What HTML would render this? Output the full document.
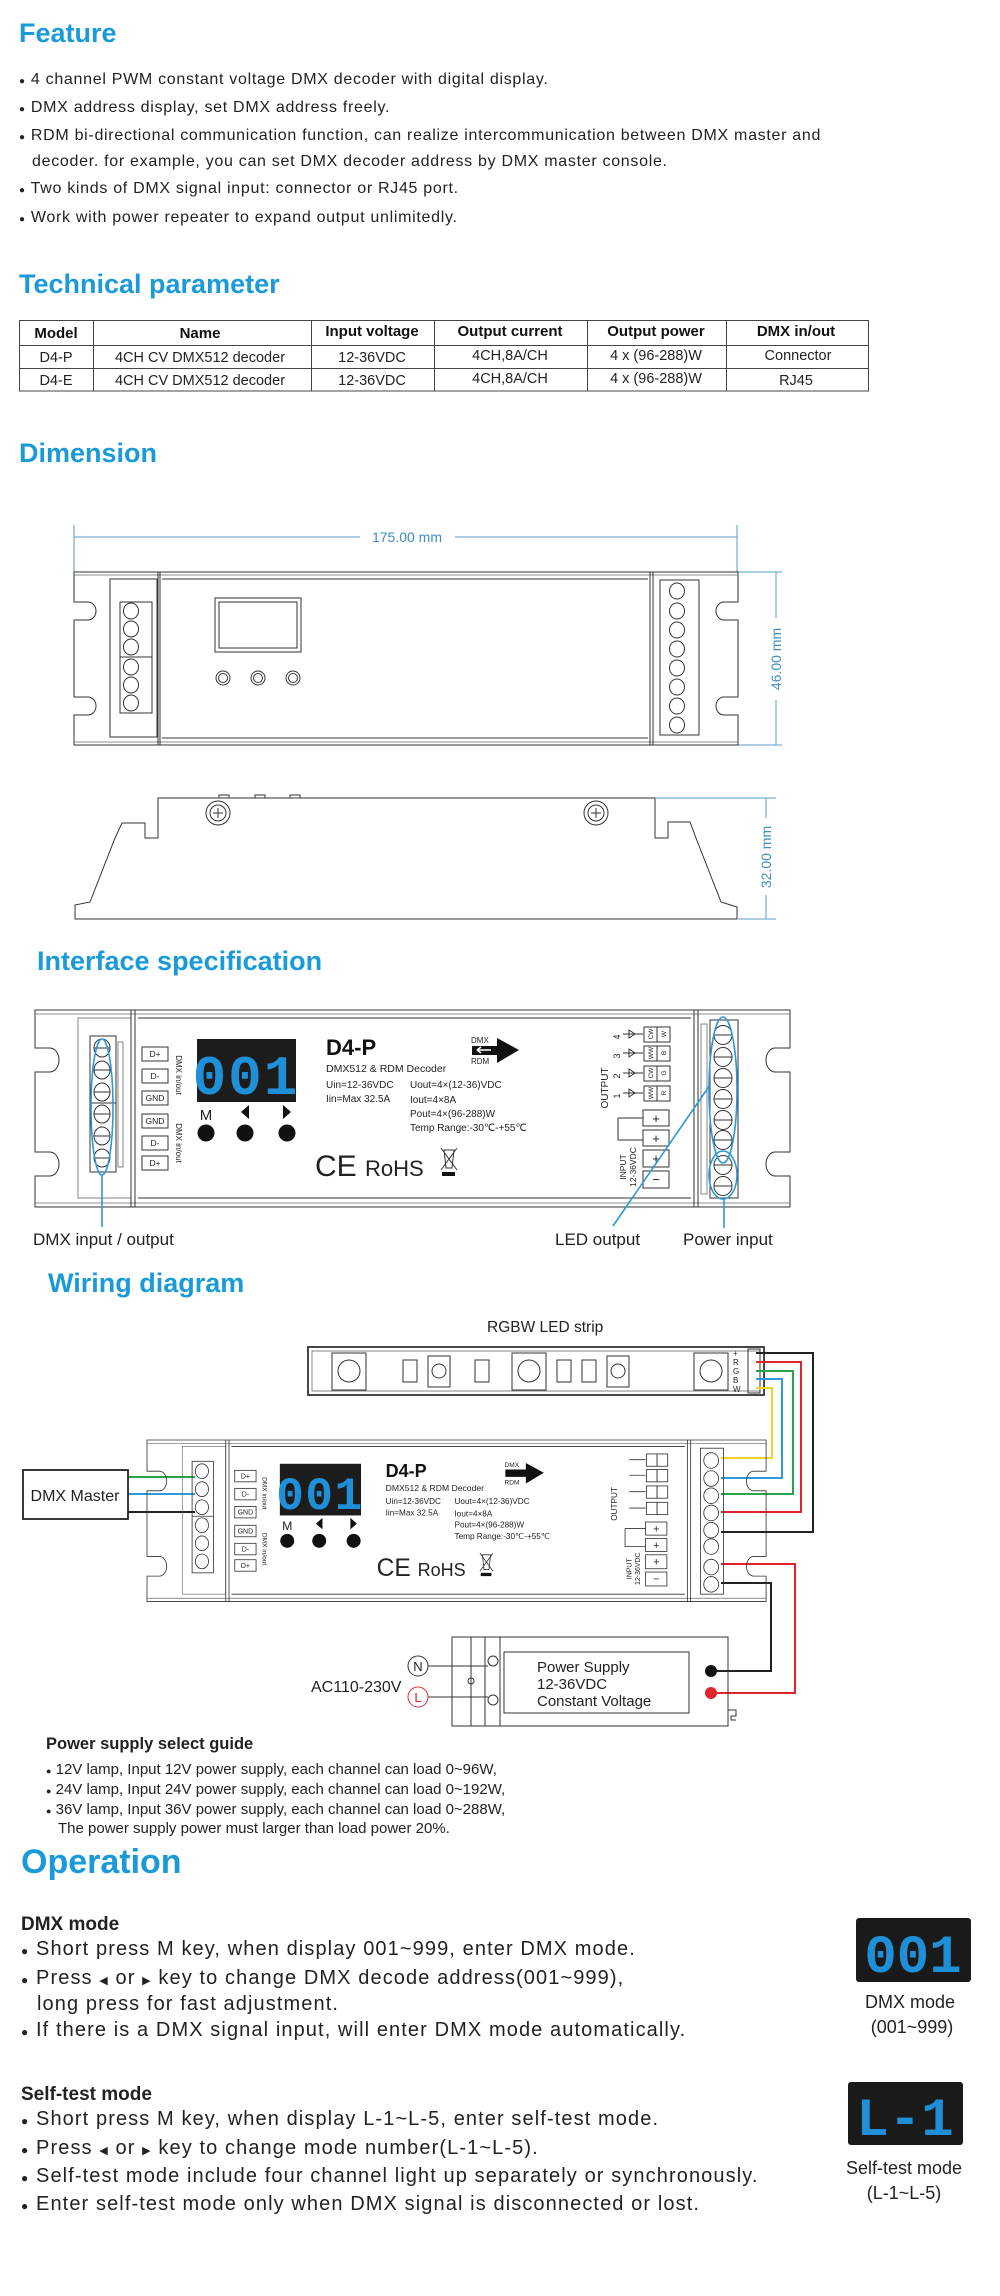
<!DOCTYPE html>
<html><head><meta charset="utf-8"><style>
html,body{margin:0;padding:0;background:#fff;}
svg{display:block;font-family:"Liberation Sans",sans-serif;}
.t{fill:#1a9ad8;font-weight:bold;font-size:27px;}
.b{fill:#222;font-size:16px;letter-spacing:0.7px;}
.tb{fill:#222;font-size:14.5px;}
.th{fill:#111;font-size:15px;font-weight:bold;}
.ln{stroke:#333;fill:none;stroke-width:1;}
.lt{stroke:#666;fill:none;stroke-width:0.8;}
.dm{stroke:#5a9cc8;fill:none;stroke-width:1;}
.hl{stroke:#2a9ad6;fill:none;stroke-width:1.6;}
.sm{font-size:10px;fill:#222;}
.op{fill:#222;font-size:20px;letter-spacing:1.1px;}
</style></head><body>
<svg width="1000" height="2296" viewBox="0 0 1000 2296" xmlns="http://www.w3.org/2000/svg">
<!-- FEATURE -->
<text class="t" x="19" y="42">Feature</text>
<g class="b">
<text x="19" y="84"><tspan font-size="10">●</tspan> 4 channel PWM constant voltage DMX decoder with digital display.</text>
<text x="19" y="112"><tspan font-size="10">●</tspan> DMX address display, set DMX address freely.</text>
<text x="19" y="140"><tspan font-size="10">●</tspan> RDM bi-directional communication function, can realize intercommunication between DMX master and</text>
<text x="32" y="166">decoder. for example, you can set DMX decoder address by DMX master console.</text>
<text x="19" y="193"><tspan font-size="10">●</tspan> Two kinds of DMX signal input: connector or RJ45 port.</text>
<text x="19" y="222"><tspan font-size="10">●</tspan> Work with power repeater to expand output unlimitedly.</text>
</g>
<!-- TECH -->
<text class="t" x="19" y="293">Technical parameter</text>
<g stroke="#444" stroke-width="1" fill="none">
<rect x="19.5" y="320.5" width="849" height="70.5"/>
<line x1="19" y1="345.5" x2="869" y2="345.5"/>
<line x1="19" y1="368.5" x2="869" y2="368.5"/>
<line x1="93.5" y1="320" x2="93.5" y2="391"/>
<line x1="311.5" y1="320" x2="311.5" y2="391"/>
<line x1="434.5" y1="320" x2="434.5" y2="391"/>
<line x1="587.5" y1="320" x2="587.5" y2="391"/>
<line x1="726.5" y1="320" x2="726.5" y2="391"/>
</g>
<g class="th" text-anchor="middle">
<text x="56" y="338">Model</text><text x="200" y="338">Name</text><text x="372" y="336">Input voltage</text><text x="510" y="336">Output current</text><text x="656" y="336">Output power</text><text x="796" y="336">DMX in/out</text>
</g>
<g class="tb" text-anchor="middle">
<text x="56" y="362">D4-P</text><text x="200" y="362">4CH CV DMX512 decoder</text><text x="372" y="362">12-36VDC</text><text x="510" y="360">4CH,8A/CH</text><text x="656" y="360">4 x (96-288)W</text><text x="798" y="360">Connector</text>
<text x="56" y="385">D4-E</text><text x="200" y="385">4CH CV DMX512 decoder</text><text x="372" y="385">12-36VDC</text><text x="510" y="383">4CH,8A/CH</text><text x="656" y="383">4 x (96-288)W</text><text x="796" y="385">RJ45</text>
</g>
<!-- DIMENSION -->
<text class="t" x="19" y="462">Dimension</text>
<g class="dm">
<line x1="74" y1="525" x2="74" y2="572"/><line x1="737" y1="525" x2="737" y2="572"/>
<line x1="74" y1="537" x2="360" y2="537"/><line x1="455" y1="537" x2="737" y2="537"/>
<line x1="738" y1="572" x2="782" y2="572"/><line x1="738" y1="745" x2="782" y2="745"/>
<line x1="776" y1="572" x2="776" y2="618"/><line x1="776" y1="700" x2="776" y2="745"/>
<line x1="656" y1="798" x2="776" y2="798"/><line x1="738" y1="919" x2="776" y2="919"/>
<line x1="766" y1="798" x2="766" y2="818"/><line x1="766" y1="895" x2="766" y2="919"/>
</g>
<text x="407" y="542" text-anchor="middle" font-size="14" fill="#3d8cc0">175.00 mm</text>
<text transform="translate(781,659) rotate(-90)" text-anchor="middle" font-size="14" fill="#3d8cc0">46.00 mm</text>
<text transform="translate(771,857) rotate(-90)" text-anchor="middle" font-size="14" fill="#3d8cc0">32.00 mm</text>
<!-- top view -->
<g class="ln">
<path d="M74,572 H738 V602 H724 a8,9 0 0 0 0,18 H738 V697 H724 a8,9 0 0 0 0,18 H738 V745 H74 V715 H88 a8,9 0 0 0 0,-18 H74 V620 H88 a8,9 0 0 0 0,-18 H74 Z"/>
<line x1="74" y1="575" x2="738" y2="575" class="lt"/><line x1="74" y1="742" x2="738" y2="742" class="lt"/>
<rect x="110" y="579" width="47" height="158"/>
<line x1="158" y1="572" x2="158" y2="745"/><line x1="160" y1="572" x2="160" y2="745"/>
<line x1="650" y1="572" x2="650" y2="745"/><line x1="653" y1="572" x2="653" y2="745"/>
<line x1="162" y1="579" x2="648" y2="579"/><line x1="162" y1="738" x2="648" y2="738"/>
<rect x="215" y="598" width="86" height="54"/><rect x="219" y="602" width="78" height="46"/>
<circle cx="223" cy="678" r="7"/><circle cx="223" cy="678" r="4.5"/>
<circle cx="258" cy="678" r="7"/><circle cx="258" cy="678" r="4.5"/>
<circle cx="293" cy="678" r="7"/><circle cx="293" cy="678" r="4.5"/>
<rect x="120" y="602" width="32" height="111"/><line x1="120" y1="657" x2="152" y2="657"/>
<rect x="660" y="580" width="39" height="155"/>
</g>
<g class="ln">
<ellipse cx="131" cy="611" rx="7.5" ry="8"/><ellipse cx="131" cy="629" rx="7.5" ry="8"/><ellipse cx="131" cy="647" rx="7.5" ry="8"/><ellipse cx="131" cy="667" rx="7.5" ry="8"/><ellipse cx="131" cy="685" rx="7.5" ry="8"/><ellipse cx="131" cy="703" rx="7.5" ry="8"/>
<ellipse cx="677" cy="591" rx="7.5" ry="8"/><ellipse cx="677" cy="611" rx="7.5" ry="8"/><ellipse cx="677" cy="630" rx="7.5" ry="8"/><ellipse cx="677" cy="649" rx="7.5" ry="8"/><ellipse cx="677" cy="668" rx="7.5" ry="8"/><ellipse cx="677" cy="687" rx="7.5" ry="8"/><ellipse cx="677" cy="706" rx="7.5" ry="8"/><ellipse cx="677" cy="725" rx="7.5" ry="8"/>
</g>
<!-- side view -->
<g class="ln">
<path d="M75,919 L75,905 L90,902 L115,838 L122,823 L145,823 L145,838 L158,838 L158,798 L655,798 L655,838 L668,838 L668,822 L690,822 L696,838 L721,902 L737,907 L737,919 Z"/>
<circle cx="218" cy="813" r="12"/><circle cx="218" cy="813" r="8"/>
<circle cx="596" cy="813" r="12"/><circle cx="596" cy="813" r="8"/>
<path d="M213,813 h10 M218,808 v10 M591,813 h10 M596,808 v10"/>
<rect x="219" y="795" width="10" height="3"/><rect x="255" y="795" width="10" height="3"/><rect x="290" y="795" width="10" height="3"/>
</g>
<!-- INTERFACE -->
<text class="t" x="37" y="970">Interface specification</text>
<g transform="translate(35,1010)">
<g class="ln">
<path d="M0,0 H755 V38 H740 a9,12 0 0 0 0,24 H755 V142 H740 a9,12 0 0 0 0,24 H755 V197 H0 V166 H15 a9,12 0 0 0 0,-24 H0 V62 H15 a9,12 0 0 0 0,-24 H0 Z"/>
<line x1="0" y1="4" x2="755" y2="4" class="lt"/><line x1="0" y1="193" x2="755" y2="193" class="lt"/>
<rect x="43" y="8" width="53" height="180" class="lt"/>
<line x1="96" y1="0" x2="96" y2="197"/><line x1="100" y1="0" x2="100" y2="197"/>
<line x1="659" y1="0" x2="659" y2="197"/><line x1="663" y1="0" x2="663" y2="197"/>
<line x1="103" y1="8" x2="656" y2="8"/><line x1="103" y1="188" x2="656" y2="188"/>
<rect x="55" y="26" width="26" height="136"/><line x1="55" y1="93" x2="81" y2="93"/>
<rect x="83" y="32" width="5" height="125" class="lt"/>
<rect x="675" y="10" width="28" height="178"/>
<rect x="666" y="14" width="6" height="170" class="lt"/>
</g>
<g class="ln">
<ellipse cx="67" cy="38" rx="8" ry="9"/><ellipse cx="67" cy="60" rx="8" ry="9"/><ellipse cx="67" cy="82" rx="8" ry="9"/><ellipse cx="67" cy="104" rx="8" ry="9"/><ellipse cx="67" cy="126" rx="8" ry="9"/><ellipse cx="67" cy="148" rx="8" ry="9"/>
<ellipse cx="688" cy="25" rx="9" ry="9.5"/><ellipse cx="688" cy="47" rx="9" ry="9.5"/><ellipse cx="688" cy="68" rx="9" ry="9.5"/><ellipse cx="688" cy="89" rx="9" ry="9.5"/><ellipse cx="688" cy="110" rx="9" ry="9.5"/><ellipse cx="688" cy="130" rx="9" ry="9.5"/><ellipse cx="688" cy="155" rx="9" ry="9.5"/><ellipse cx="688" cy="176" rx="9" ry="9.5"/>
<path d="M59,38h16M59,60h16M59,82h16M59,104h16M59,126h16M59,148h16M679,25h18M679,47h18M679,68h18M679,89h18M679,110h18M679,130h18M679,155h18M679,176h18"/>
<rect x="107" y="37" width="26" height="14"/><rect x="107" y="59" width="26" height="14"/><rect x="107" y="81" width="26" height="14"/>
<rect x="107" y="104" width="26" height="14"/><rect x="107" y="126" width="26" height="14"/><rect x="107" y="146" width="26" height="14"/>
</g>
<g font-size="8.5" fill="#222" text-anchor="middle">
<text x="120" y="47">D+</text><text x="120" y="69">D-</text><text x="120" y="91">GND</text><text x="120" y="114">GND</text><text x="120" y="136">D-</text><text x="120" y="156">D+</text>
</g>
<text transform="translate(141,65) rotate(90)" text-anchor="middle" font-size="8" fill="#222">DMX in/out</text>
<text transform="translate(141,133) rotate(90)" text-anchor="middle" font-size="8" fill="#222">DMX in/out</text>
<rect x="162" y="29" width="99" height="63" fill="#1c1c1c"/>
<text x="211" y="84" text-anchor="middle" font-size="56" font-weight="bold" fill="#1f8fd8" font-family="Liberation Mono, monospace" letter-spacing="2">001</text>
<text x="171" y="110" text-anchor="middle" font-size="15" fill="#222">M</text>
<path d="M214,95 L206,102 L214,109 Z M248,95 L256,102 L248,109 Z" fill="#111"/>
<circle cx="171" cy="123" r="8.5" fill="#111"/><circle cx="210" cy="123" r="8.5" fill="#111"/><circle cx="252" cy="123" r="8.5" fill="#111"/>
<text x="291" y="45" font-size="22" font-weight="bold" fill="#111">D4-P</text>
<text x="291" y="62" font-size="10.5" fill="#222">DMX512 &amp; RDM Decoder</text>
<g class="sm">
<text x="291" y="78">Uin=12-36VDC</text><text x="291" y="92">Iin=Max 32.5A</text>
<text x="375" y="78">Uout=4×(12-36)VDC</text><text x="375" y="93">Iout=4×8A</text><text x="375" y="107">Pout=4×(96-288)W</text><text x="375" y="121">Temp Range:-30℃-+55℃</text>
</g>
<text x="436" y="33" font-size="8" fill="#222">DMX</text><text x="436" y="54" font-size="8" fill="#222">RDM</text>
<path d="M437,36 H462 V28 L484,40 L462,53 V45 H437 Z" fill="#111"/>
<path d="M442,40 h14 M442,40 l4,-3 M442,40 l4,3" stroke="#fff" stroke-width="1.5" fill="none"/>
<text x="280" y="166" font-size="30" fill="#222">CE</text>
<text x="330" y="166" font-size="22" fill="#222">RoHS</text>
<path d="M409,140 h10 l-2,18 h-6 Z M406,138 L422,160 M422,138 L406,160" class="ln"/><rect x="407" y="162" width="13" height="4" fill="#111"/>
<text transform="translate(573,78) rotate(-90)" text-anchor="middle" font-size="10" fill="#222">OUTPUT</text>
<g font-size="9" fill="#222"><text transform="translate(585,27) rotate(-90)" text-anchor="middle">4</text><text transform="translate(585,46) rotate(-90)" text-anchor="middle">3</text><text transform="translate(585,66) rotate(-90)" text-anchor="middle">2</text><text transform="translate(585,86) rotate(-90)" text-anchor="middle">1</text></g>
<g class="ln">
<path d="M588,24h20M588,43h20M588,63h20M588,83h20"/>
<path d="M594,20l6,4l-6,4zM594,39l6,4l-6,4zM594,59l6,4l-6,4zM594,79l6,4l-6,4z"/>
<rect x="609" y="17" width="13" height="15"/><rect x="622" y="17" width="13" height="15"/>
<rect x="609" y="36" width="13" height="15"/><rect x="622" y="36" width="13" height="15"/>
<rect x="609" y="56" width="13" height="15"/><rect x="622" y="56" width="13" height="15"/>
<rect x="609" y="76" width="13" height="15"/><rect x="622" y="76" width="13" height="15"/>
<rect x="608" y="100" width="26" height="16"/><rect x="608" y="120" width="26" height="16"/><rect x="608" y="140" width="26" height="17"/><rect x="608" y="161" width="26" height="17"/>
<path d="M583,108 V130 H608 M583,108 H608"/>
</g>
<g font-size="6.5" fill="#222">
<text transform="translate(618,24) rotate(-90)" text-anchor="middle">CW</text><text transform="translate(631,24) rotate(-90)" text-anchor="middle">W</text>
<text transform="translate(618,43) rotate(-90)" text-anchor="middle">WW</text><text transform="translate(631,43) rotate(-90)" text-anchor="middle">B</text>
<text transform="translate(618,63) rotate(-90)" text-anchor="middle">CW</text><text transform="translate(631,63) rotate(-90)" text-anchor="middle">G</text>
<text transform="translate(618,83) rotate(-90)" text-anchor="middle">WW</text><text transform="translate(631,83) rotate(-90)" text-anchor="middle">R</text>
</g>
<g font-size="13" fill="#222" text-anchor="middle"><text x="621" y="113">+</text><text x="621" y="133">+</text><text x="621" y="153">+</text><text x="621" y="174">−</text></g>
<text transform="translate(591,157) rotate(-90)" text-anchor="middle" font-size="8.5" fill="#222">INPUT</text>
<text transform="translate(601,157) rotate(-90)" text-anchor="middle" font-size="8.5" fill="#222">12-36VDC</text>
</g>
<!-- interface highlights -->
<g class="hl">
<ellipse cx="102" cy="1107" rx="11" ry="68"/>
<ellipse cx="723" cy="1090" rx="14" ry="73"/>
<ellipse cx="723" cy="1175" rx="14" ry="24"/>
<line x1="102" y1="1175" x2="102" y2="1227"/>
<line x1="710" y1="1085" x2="613" y2="1226"/>
<line x1="724" y1="1199" x2="724" y2="1228"/>
</g>
<g font-size="17" fill="#222">
<text x="33" y="1245">DMX input / output</text><text x="555" y="1245">LED output</text><text x="683" y="1245">Power input</text>
</g>
<!-- WIRING -->
<text class="t" x="48" y="1292">Wiring diagram</text>
<text x="487" y="1332" font-size="15.5" fill="#222">RGBW LED strip</text>
<g class="ln">
<rect x="308" y="1347" width="456" height="48" stroke-width="1.8"/>
<rect x="312" y="1351" width="448" height="40" class="lt"/>
<rect x="332" y="1353" width="34" height="37"/><circle cx="349" cy="1371" r="11"/>
<rect x="403" y="1360" width="14" height="22"/><rect x="428" y="1356" width="22" height="31"/><circle cx="439" cy="1371" r="7"/>
<rect x="475" y="1360" width="14" height="22"/>
<rect x="512" y="1353" width="34" height="37"/><circle cx="529" cy="1371" r="11"/>
<rect x="557" y="1360" width="14" height="22"/><rect x="582" y="1360" width="14" height="22"/>
<rect x="607" y="1356" width="22" height="31"/><circle cx="618" cy="1371" r="7"/>
<rect x="694" y="1353" width="34" height="37"/><circle cx="711" cy="1371" r="11"/>
<rect x="748" y="1349" width="12" height="44"/>
</g>
<g font-size="8" fill="#222"><text x="733" y="1356">+</text><text x="733" y="1365">R</text><text x="733" y="1374">G</text><text x="733" y="1383">B</text><text x="733" y="1392">W</text></g>
<g fill="none" stroke-width="2">
<path d="M756,1353 H813 V1532 H721" stroke="#222"/>
<path d="M756,1362 H801 V1512 H721" stroke="#e0262a"/>
<path d="M756,1371 H793 V1494 H721" stroke="#2aa24a"/>
<path d="M756,1379 H782 V1478 H721" stroke="#2f9ad8"/>
<path d="M756,1388 H772 V1458 H721" stroke="#f3d22c"/>
<path d="M128,1477 H195" stroke="#2aa24a"/>
<path d="M128,1494 H195" stroke="#2f9ad8"/>
<path d="M128,1512 H195" stroke="#222"/>
<path d="M721,1564 H795 V1693 H711" stroke="#e0262a"/>
<path d="M721,1583 H771 V1671 H711" stroke="#222"/>
</g>
<rect x="23" y="1470" width="105" height="49" fill="#fff" stroke="#222" stroke-width="1.8"/>
<text x="75" y="1501" text-anchor="middle" font-size="16" fill="#222">DMX Master</text>
<g transform="translate(147,1440) scale(0.82)">
<g class="ln">
<path d="M0,0 H755 V38 H740 a9,12 0 0 0 0,24 H755 V142 H740 a9,12 0 0 0 0,24 H755 V197 H0 V166 H15 a9,12 0 0 0 0,-24 H0 V62 H15 a9,12 0 0 0 0,-24 H0 Z"/>
<line x1="0" y1="4" x2="755" y2="4" class="lt"/><line x1="0" y1="193" x2="755" y2="193" class="lt"/>
<rect x="43" y="8" width="53" height="180" class="lt"/>
<line x1="96" y1="0" x2="96" y2="197"/><line x1="100" y1="0" x2="100" y2="197"/>
<line x1="659" y1="0" x2="659" y2="197"/><line x1="663" y1="0" x2="663" y2="197"/>
<line x1="103" y1="8" x2="656" y2="8"/><line x1="103" y1="188" x2="656" y2="188"/>
<rect x="55" y="26" width="26" height="136"/><line x1="55" y1="93" x2="81" y2="93"/>
<rect x="675" y="10" width="28" height="178"/>
<ellipse cx="67" cy="38" rx="8" ry="9"/><ellipse cx="67" cy="60" rx="8" ry="9"/><ellipse cx="67" cy="82" rx="8" ry="9"/><ellipse cx="67" cy="104" rx="8" ry="9"/><ellipse cx="67" cy="126" rx="8" ry="9"/><ellipse cx="67" cy="148" rx="8" ry="9"/>
<ellipse cx="688" cy="25" rx="9" ry="9.5"/><ellipse cx="688" cy="47" rx="9" ry="9.5"/><ellipse cx="688" cy="68" rx="9" ry="9.5"/><ellipse cx="688" cy="89" rx="9" ry="9.5"/><ellipse cx="688" cy="110" rx="9" ry="9.5"/><ellipse cx="688" cy="130" rx="9" ry="9.5"/><ellipse cx="688" cy="155" rx="9" ry="9.5"/><ellipse cx="688" cy="176" rx="9" ry="9.5"/>
<rect x="107" y="37" width="26" height="14"/><rect x="107" y="59" width="26" height="14"/><rect x="107" y="81" width="26" height="14"/>
<rect x="107" y="104" width="26" height="14"/><rect x="107" y="126" width="26" height="14"/><rect x="107" y="146" width="26" height="14"/>
<path d="M588,24h20M588,43h20M588,63h20M588,83h20"/>
<rect x="609" y="17" width="13" height="15"/><rect x="622" y="17" width="13" height="15"/>
<rect x="609" y="36" width="13" height="15"/><rect x="622" y="36" width="13" height="15"/>
<rect x="609" y="56" width="13" height="15"/><rect x="622" y="56" width="13" height="15"/>
<rect x="609" y="76" width="13" height="15"/><rect x="622" y="76" width="13" height="15"/>
<rect x="608" y="100" width="26" height="16"/><rect x="608" y="120" width="26" height="16"/><rect x="608" y="140" width="26" height="17"/><rect x="608" y="161" width="26" height="17"/>
<path d="M583,108 V130 H608 M583,108 H608"/>
</g>
<g font-size="8.5" fill="#222" text-anchor="middle">
<text x="120" y="47">D+</text><text x="120" y="69">D-</text><text x="120" y="91">GND</text><text x="120" y="114">GND</text><text x="120" y="136">D-</text><text x="120" y="156">D+</text>
</g>
<text transform="translate(141,65) rotate(90)" text-anchor="middle" font-size="8" fill="#222">DMX in/out</text>
<text transform="translate(141,133) rotate(90)" text-anchor="middle" font-size="8" fill="#222">DMX in/out</text>
<rect x="162" y="29" width="99" height="63" fill="#1c1c1c"/>
<text x="211" y="84" text-anchor="middle" font-size="56" font-weight="bold" fill="#1f8fd8" font-family="Liberation Mono, monospace" letter-spacing="2">001</text>
<text x="171" y="110" text-anchor="middle" font-size="15" fill="#222">M</text>
<path d="M214,95 L206,102 L214,109 Z M248,95 L256,102 L248,109 Z" fill="#111"/>
<circle cx="171" cy="123" r="8.5" fill="#111"/><circle cx="210" cy="123" r="8.5" fill="#111"/><circle cx="252" cy="123" r="8.5" fill="#111"/>
<text x="291" y="45" font-size="22" font-weight="bold" fill="#111">D4-P</text>
<text x="291" y="62" font-size="10.5" fill="#222">DMX512 &amp; RDM Decoder</text>
<g class="sm">
<text x="291" y="78">Uin=12-36VDC</text><text x="291" y="92">Iin=Max 32.5A</text>
<text x="375" y="78">Uout=4×(12-36)VDC</text><text x="375" y="93">Iout=4×8A</text><text x="375" y="107">Pout=4×(96-288)W</text><text x="375" y="121">Temp Range:-30℃-+55℃</text>
</g>
<text x="436" y="33" font-size="8" fill="#222">DMX</text><text x="436" y="54" font-size="8" fill="#222">RDM</text>
<path d="M437,36 H462 V28 L484,40 L462,53 V45 H437 Z" fill="#111"/>
<text x="280" y="166" font-size="30" fill="#222">CE</text>
<text x="330" y="166" font-size="22" fill="#222">RoHS</text>
<path d="M409,140 h10 l-2,18 h-6 Z M406,138 L422,160 M422,138 L406,160" class="ln"/><rect x="407" y="162" width="13" height="4" fill="#111"/>
<text transform="translate(573,78) rotate(-90)" text-anchor="middle" font-size="10" fill="#222">OUTPUT</text>
<g font-size="13" fill="#222" text-anchor="middle"><text x="621" y="113">+</text><text x="621" y="133">+</text><text x="621" y="153">+</text><text x="621" y="174">−</text></g>
<text transform="translate(591,157) rotate(-90)" text-anchor="middle" font-size="8.5" fill="#222">INPUT</text>
<text transform="translate(601,157) rotate(-90)" text-anchor="middle" font-size="8.5" fill="#222">12-36VDC</text>
</g>
<!-- power supply -->
<g class="ln">
<rect x="452" y="1637" width="276" height="89"/>
<line x1="471" y1="1637" x2="471" y2="1726"/><line x1="485" y1="1637" x2="485" y2="1726"/><line x1="500" y1="1637" x2="500" y2="1726"/>
<rect x="504" y="1652" width="185" height="61"/>
<circle cx="493" cy="1661" r="5"/><circle cx="493" cy="1700" r="5"/><circle cx="471" cy="1681" r="3"/>
<path d="M428,1666 H488 M428,1697 H488"/>
<path d="M728,1710 h8 v6 h-5 v4 h5"/>
</g>
<circle cx="418" cy="1666" r="10" fill="#fff" stroke="#333"/><text x="418" y="1671" text-anchor="middle" font-size="13" fill="#222">N</text>
<circle cx="418" cy="1697" r="10" fill="#fff" stroke="#d33"/><text x="418" y="1702" text-anchor="middle" font-size="13" fill="#d22">L</text>
<text x="311" y="1692" font-size="16" fill="#222">AC110-230V</text>
<g font-size="15" fill="#222"><text x="537" y="1672">Power Supply</text><text x="537" y="1689">12-36VDC</text><text x="537" y="1706">Constant Voltage</text></g>
<circle cx="711" cy="1671" r="6" fill="#111"/><circle cx="711" cy="1693" r="6" fill="#e0262a"/>
<!-- guide -->
<text x="46" y="1749" font-size="16.5" font-weight="bold" fill="#222">Power supply select guide</text>
<g font-size="15" fill="#222">
<text x="46" y="1774"><tspan font-size="9">●</tspan> 12V lamp, Input 12V power supply, each channel can load 0~96W,</text>
<text x="46" y="1794"><tspan font-size="9">●</tspan> 24V lamp, Input 24V power supply, each channel can load 0~192W,</text>
<text x="46" y="1814"><tspan font-size="9">●</tspan> 36V lamp, Input 36V power supply, each channel can load 0~288W,</text>
<text x="58" y="1833">The power supply power must larger than load power 20%.</text>
</g>
<!-- OPERATION -->
<text x="21" y="1873" font-size="34" font-weight="bold" fill="#1a9ad8">Operation</text>
<text x="21" y="1930" font-size="19" font-weight="bold" fill="#222">DMX mode</text>
<g class="op">
<text x="21" y="1955"><tspan font-size="12">●</tspan> Short press M key, when display 001~999, enter DMX mode.</text>
<text x="21" y="1984"><tspan font-size="12">●</tspan> Press <tspan font-size="11">◀</tspan> or <tspan font-size="11">▶</tspan> key to change DMX decode address(001~999),</text>
<text x="37" y="2010">long press for fast adjustment.</text>
<text x="21" y="2036"><tspan font-size="12">●</tspan> If there is a DMX signal input, will enter DMX mode automatically.</text>
</g>
<text x="21" y="2100" font-size="19" font-weight="bold" fill="#222">Self-test mode</text>
<g class="op">
<text x="21" y="2125"><tspan font-size="12">●</tspan> Short press M key, when display L-1~L-5, enter self-test mode.</text>
<text x="21" y="2154"><tspan font-size="12">●</tspan> Press <tspan font-size="11">◀</tspan> or <tspan font-size="11">▶</tspan> key to change mode number(L-1~L-5).</text>
<text x="21" y="2182"><tspan font-size="12">●</tspan> Self-test mode include four channel light up separately or synchronously.</text>
<text x="21" y="2210"><tspan font-size="12">●</tspan> Enter self-test mode only when DMX signal is disconnected or lost.</text>
</g>
<rect x="856" y="1918" width="115" height="64" rx="3" fill="#1a1a1a"/>
<text x="913" y="1972" text-anchor="middle" font-size="54" font-weight="bold" fill="#1f8fd8" font-family="Liberation Mono, monospace">001</text>
<g font-size="18" fill="#222" text-anchor="middle"><text x="910" y="2008">DMX mode</text><text x="912" y="2033">(001~999)</text></g>
<rect x="848" y="2082" width="115" height="63" rx="3" fill="#1a1a1a"/>
<text x="905" y="2135" text-anchor="middle" font-size="54" font-weight="bold" fill="#1f8fd8" font-family="Liberation Mono, monospace">L-1</text>
<g font-size="18" fill="#222" text-anchor="middle"><text x="904" y="2174">Self-test mode</text><text x="904" y="2199">(L-1~L-5)</text></g>
</svg>
</body></html>
